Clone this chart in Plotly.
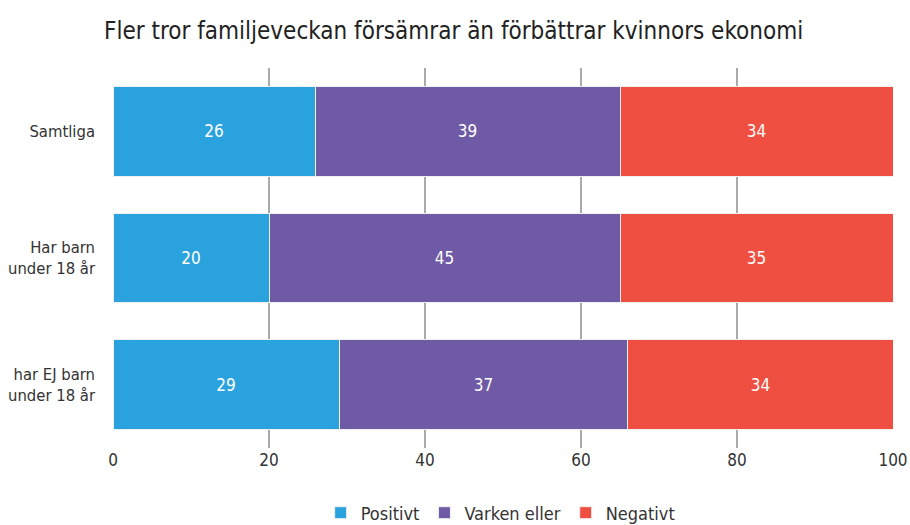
import plotly.graph_objects as go

categories = ["Samtliga", "Har barn<br>under 18 år", "har EJ barn<br>under 18 år"]
series_names = ["Positivt", "Varken eller", "Negativt"]
positivt = [25.9, 20, 29]
varken = [39.1, 45, 37]
negativt = [35, 35, 34]
positivt_labels = ["26", "20", "29"]
varken_labels = ["39", "45", "37"]
negativt_labels = ["34", "35", "34"]
colors = ["#2aa2dd", "#6f5aa6", "#ef4f40"]
tick_vals = [0, 20, 40, 60, 80, 100]

FONT = "DejaVu Sans Condensed, Liberation Sans Narrow, sans-serif"

fig = go.Figure()
for name, vals, labels, col in zip(series_names, [positivt, varken, negativt],
                                   [positivt_labels, varken_labels, negativt_labels], colors):
    fig.add_trace(go.Bar(
        y=categories, x=vals, name=name, orientation="h",
        marker=dict(color=col, line=dict(color="#f0f0f0", width=1)),
        text=labels, textposition="inside", insidetextanchor="middle",
        textfont=dict(color="white", size=17, family=FONT),
        width=0.71, hoverinfo="x+name",
    ))

fig.update_layout(
    barmode="stack",
    width=910, height=525,
    margin=dict(l=113, r=17, t=68, b=77, autoexpand=False),
    paper_bgcolor="white", plot_bgcolor="white",
    font=dict(family=FONT, color="#333333"),
    title=dict(text="Fler tror familjeveckan försämrar än förbättrar kvinnors ekonomi",
               x=0.1143, xanchor="left", y=0.941, yanchor="middle",
               font=dict(size=24, color="#222222", family=FONT)),
    xaxis=dict(range=[0, 100], tickvals=tick_vals, showgrid=True, gridcolor="#aaaaaa",
               gridwidth=1.5, zeroline=False, showline=False, ticks="", tickfont=dict(size=17, color="#333"),
               fixedrange=True, automargin=False, ticklabeloverflow="allow"),
    yaxis=dict(autorange="reversed", ticks="", showline=False, showgrid=False,
               tickfont=dict(size=16.5, color="#333"), ticklabelstandoff=17, fixedrange=True,
               automargin=False),
    legend=dict(orientation="h", x=0.497, xanchor="center", y=-0.171, yanchor="middle",
                font=dict(size=18, color="#333"), traceorder="normal", itemwidth=30),
    bargap=0.29,
)

# remove the default 8px page margin so the 910x525 figure fills the window exactly
fig.write_html("out.html",
               config={"displayModeBar": False},
               post_script="document.body.style.margin='0';document.body.style.overflow='hidden';")
